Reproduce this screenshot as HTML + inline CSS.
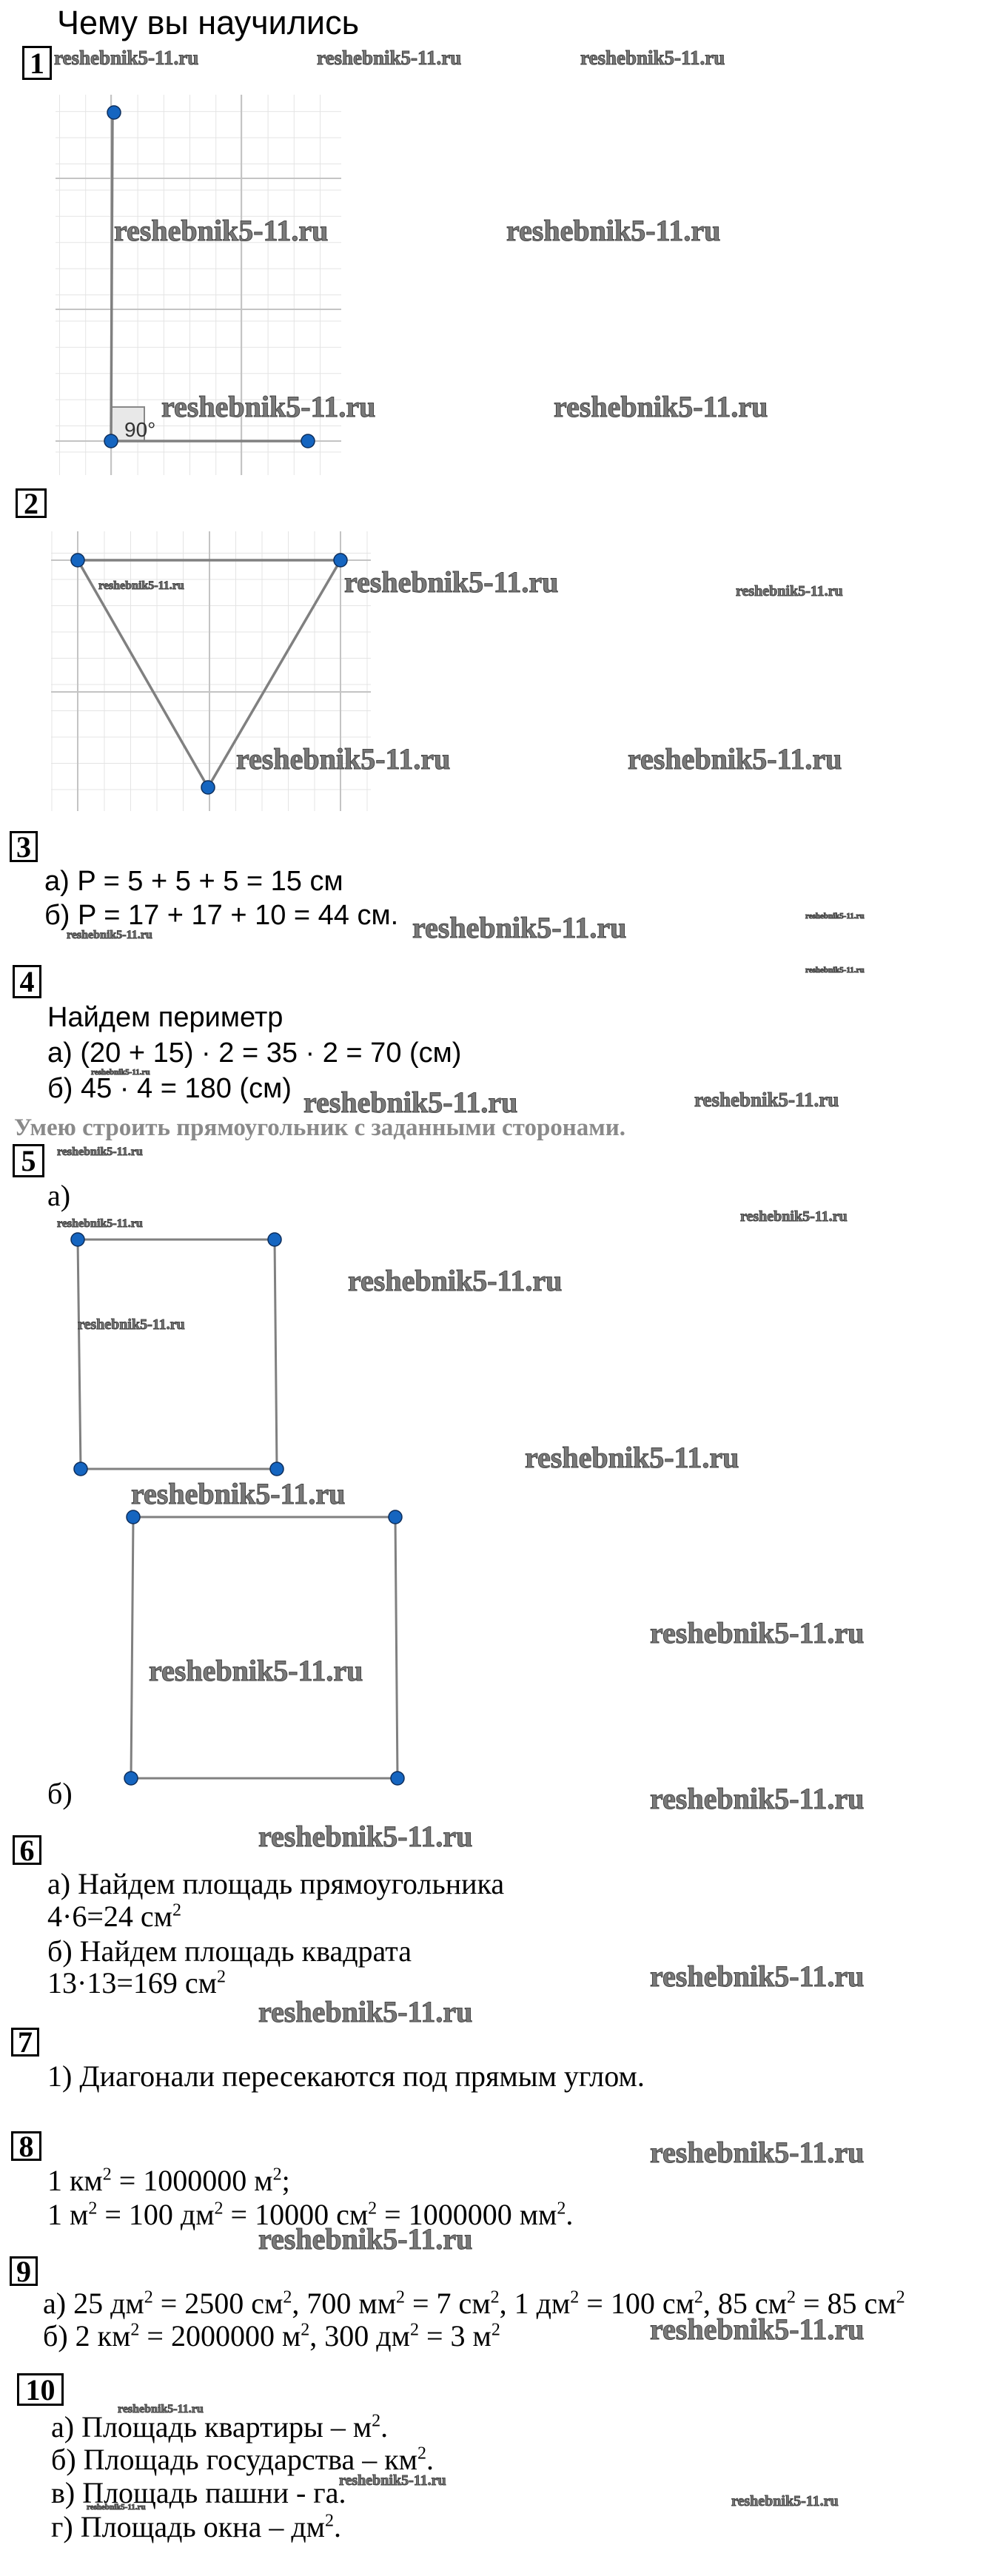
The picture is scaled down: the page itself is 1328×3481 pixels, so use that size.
<!DOCTYPE html>
<html><head><meta charset="utf-8">
<style>
body{margin:0;background:#fff;}
#p{position:relative;width:1328px;height:3481px;overflow:hidden;background:#fff;}
.t{position:absolute;white-space:nowrap;color:#000;}
.s{font-family:"Liberation Sans","Noto Sans CJK SC",sans-serif;font-size:38px;line-height:38px;}
.r{font-family:"Liberation Serif","Noto Serif CJK SC",serif;font-size:40px;line-height:40px;}
.b{position:absolute;border:3px solid #000;font-family:"Liberation Serif",serif;font-weight:bold;font-size:40px;display:flex;align-items:center;justify-content:center;box-sizing:border-box;}
.w{position:absolute;white-space:nowrap;font-family:"Liberation Serif",serif;font-weight:bold;color:#7a7a7a;-webkit-text-stroke:1px #444;}
.w40{font-size:40px;line-height:40px;}
.w27{font-size:27px;line-height:27px;}
.w20{font-size:20px;line-height:20px;}
.w16{font-size:16px;line-height:16px;}
.w11{font-size:11px;line-height:11px;}
sup{font-size:60%;line-height:0;}
</style></head><body><div id="p">
<svg width="1328" height="3481" style="position:absolute;left:0;top:0">
<defs>
<pattern id="g1" x="9.6" y="8.6" width="35.2" height="35.4" patternUnits="userSpaceOnUse"><path d="M0 0V35.4M0 0H35.2" stroke="#e4e4e4" stroke-width="2" fill="none"/></pattern>
<pattern id="g2" x="-1.5" y="1.5" width="35.5" height="35.5" patternUnits="userSpaceOnUse"><path d="M0 0V35.5M0 0H35.5" stroke="#e4e4e4" stroke-width="2" fill="none"/></pattern>
</defs>
<rect x="75" y="128" width="386" height="514" fill="url(#g1)"/>
<g stroke="#c4c4c4" stroke-width="2">
<line x1="150" y1="128" x2="150" y2="642"/><line x1="326" y1="128" x2="326" y2="642"/>
<line x1="75" y1="241" x2="461" y2="241"/><line x1="75" y1="418" x2="461" y2="418"/><line x1="75" y1="596" x2="461" y2="596"/>
</g>
<rect x="150" y="550" width="45" height="46" fill="#e8e8e8" stroke="#888" stroke-width="2"/>
<text x="168" y="590" font-family="Liberation Sans" font-size="28" fill="#333">90°</text>
<g stroke="#808080" stroke-width="3.5"><line x1="152" y1="152" x2="150" y2="596"/><line x1="150" y1="596" x2="416" y2="596"/></g>
<g fill="#1565c0" stroke="#0d2e5c" stroke-width="1.5"><circle cx="154" cy="152" r="9"/><circle cx="150" cy="596" r="9"/><circle cx="416" cy="596" r="9"/></g>

<rect x="69" y="718" width="432" height="378" fill="url(#g2)"/>
<g stroke="#c4c4c4" stroke-width="2">
<line x1="105" y1="718" x2="105" y2="1096"/><line x1="283" y1="718" x2="283" y2="1096"/><line x1="460" y1="718" x2="460" y2="1096"/>
<line x1="69" y1="757" x2="501" y2="757"/><line x1="69" y1="935" x2="501" y2="935"/>
</g>
<g stroke="#808080" stroke-width="3.5" fill="none"><polygon points="105,757 460,757 281,1064"/></g>
<g fill="#1565c0" stroke="#0d2e5c" stroke-width="1.5"><circle cx="105" cy="757" r="9"/><circle cx="460" cy="757" r="9"/><circle cx="281" cy="1064" r="9"/></g>

<g stroke="#808080" stroke-width="3" fill="none">
<polygon points="105,1675 371,1675 374,1985 109,1985"/>
<polygon points="180,2050 534,2050 537,2403 177,2403"/>
</g>
<g fill="#1565c0" stroke="#0d2e5c" stroke-width="1.5">
<circle cx="105" cy="1675" r="9"/><circle cx="371" cy="1675" r="9"/><circle cx="109" cy="1985" r="9"/><circle cx="374" cy="1985" r="9"/>
<circle cx="180" cy="2050" r="9"/><circle cx="534" cy="2050" r="9"/><circle cx="177" cy="2403" r="9"/><circle cx="537" cy="2403" r="9"/>
</g>
</svg>

<div class="t s" style="left:77px;top:8px;font-size:45px;line-height:45px;">Чему вы научились</div>
<div class="b" style="left:30px;top:62px;width:40px;height:46px;">1</div>
<div class="w w27" style="left:73px;top:65px;">reshebnik5-11.ru</div>
<div class="w w27" style="left:428px;top:65px;">reshebnik5-11.ru</div>
<div class="w w27" style="left:784px;top:65px;">reshebnik5-11.ru</div>
<div class="w w40" style="left:154px;top:292px;">reshebnik5-11.ru</div>
<div class="w w40" style="left:684px;top:292px;">reshebnik5-11.ru</div>
<div class="w w40" style="left:218px;top:530px;">reshebnik5-11.ru</div>
<div class="w w40" style="left:748px;top:530px;">reshebnik5-11.ru</div>

<div class="b" style="left:21px;top:660px;width:42px;height:40px;">2</div>
<div class="w w16" style="left:133px;top:784px;">reshebnik5-11.ru</div>
<div class="w w40" style="left:465px;top:767px;">reshebnik5-11.ru</div>
<div class="w w20" style="left:994px;top:789px;">reshebnik5-11.ru</div>
<div class="w w40" style="left:319px;top:1006px;">reshebnik5-11.ru</div>
<div class="w w40" style="left:848px;top:1006px;">reshebnik5-11.ru</div>

<div class="b" style="left:13px;top:1123px;width:38px;height:42px;">3</div>
<div class="t s" style="left:60px;top:1172px;">а) P = 5 + 5 + 5 = 15 см</div>
<div class="t s" style="left:60px;top:1218px;">б) P = 17 + 17 + 10 = 44 см.</div>
<div class="w w16" style="left:90px;top:1256px;">reshebnik5-11.ru</div>
<div class="w w40" style="left:557px;top:1234px;">reshebnik5-11.ru</div>
<div class="w w11" style="left:1088px;top:1233px;">reshebnik5-11.ru</div>
<div class="w w11" style="left:1088px;top:1306px;">reshebnik5-11.ru</div>

<div class="b" style="left:17px;top:1304px;width:39px;height:45px;">4</div>
<div class="t s" style="left:64px;top:1356px;">Найдем периметр</div>
<div class="t s" style="left:64px;top:1404px;">а) (20 + 15) · 2 = 35 · 2 = 70 (см)</div>
<div class="t s" style="left:64px;top:1452px;">б) 45 · 4 =  180 (см)</div>
<div class="w w11" style="left:123px;top:1444px;">reshebnik5-11.ru</div>
<div class="w w40" style="left:410px;top:1470px;">reshebnik5-11.ru</div>
<div class="w w27" style="left:938px;top:1473px;">reshebnik5-11.ru</div>
<div class="t" style="left:19px;top:1508px;font-family:'Liberation Serif',serif;font-weight:bold;font-size:33px;line-height:33px;color:#8a8a8a;">Умею строить прямоугольник с заданными сторонами.</div>

<div class="b" style="left:17px;top:1546px;width:43px;height:45px;">5</div>
<div class="w w16" style="left:77px;top:1549px;">reshebnik5-11.ru</div>
<div class="t r" style="left:64px;top:1596px;">а)</div>
<div class="w w16" style="left:77px;top:1646px;">reshebnik5-11.ru</div>
<div class="w w20" style="left:1000px;top:1634px;">reshebnik5-11.ru</div>
<div class="w w20" style="left:105px;top:1780px;">reshebnik5-11.ru</div>
<div class="w w40" style="left:470px;top:1711px;">reshebnik5-11.ru</div>
<div class="w w40" style="left:709px;top:1950px;">reshebnik5-11.ru</div>
<div class="w w40" style="left:177px;top:1999px;">reshebnik5-11.ru</div>
<div class="w w40" style="left:878px;top:2187px;">reshebnik5-11.ru</div>
<div class="w w40" style="left:201px;top:2238px;">reshebnik5-11.ru</div>

<div class="t r" style="left:64px;top:2404px;">б)</div>
<div class="w w40" style="left:878px;top:2411px;">reshebnik5-11.ru</div>
<div class="b" style="left:17px;top:2480px;width:39px;height:40px;">6</div>
<div class="w w40" style="left:349px;top:2462px;">reshebnik5-11.ru</div>
<div class="t r" style="left:64px;top:2526px;">а) Найдем площадь прямоугольника</div>
<div class="t r" style="left:64px;top:2570px;">4·6=24 см<sup>2</sup></div>
<div class="t r" style="left:64px;top:2617px;">б) Найдем площадь квадрата</div>
<div class="t r" style="left:64px;top:2660px;">13·13=169 см<sup>2</sup></div>
<div class="w w40" style="left:878px;top:2651px;">reshebnik5-11.ru</div>
<div class="w w40" style="left:349px;top:2699px;">reshebnik5-11.ru</div>

<div class="b" style="left:15px;top:2740px;width:38px;height:39px;">7</div>
<div class="t r" style="left:64px;top:2786px;">1) Диагонали пересекаются под прямым углом.</div>

<div class="b" style="left:15px;top:2880px;width:41px;height:40px;">8</div>
<div class="w w40" style="left:878px;top:2889px;">reshebnik5-11.ru</div>
<div class="t r" style="left:64px;top:2927px;">1 км<sup>2</sup> = 1000000 м<sup>2</sup>;</div>
<div class="t r" style="left:64px;top:2973px;">1 м<sup>2</sup> = 100 дм<sup>2</sup> = 10000 см<sup>2</sup> = 1000000 мм<sup>2</sup>.</div>
<div class="w w40" style="left:349px;top:3006px;">reshebnik5-11.ru</div>

<div class="b" style="left:13px;top:3049px;width:38px;height:40px;">9</div>
<div class="t r" style="left:58px;top:3093px;">а) 25 дм<sup>2</sup> = 2500 см<sup>2</sup>, 700 мм<sup>2</sup> = 7 см<sup>2</sup>, 1 дм<sup>2</sup> = 100 см<sup>2</sup>, 85 см<sup>2</sup> = 85 см<sup>2</sup></div>
<div class="t r" style="left:58px;top:3137px;">б) 2 км<sup>2</sup> = 2000000 м<sup>2</sup>, 300 дм<sup>2</sup> = 3 м<sup>2</sup></div>
<div class="w w40" style="left:878px;top:3128px;">reshebnik5-11.ru</div>

<div class="b" style="left:23px;top:3207px;width:63px;height:44px;">10</div>
<div class="w w16" style="left:159px;top:3248px;">reshebnik5-11.ru</div>
<div class="t r" style="left:69px;top:3260px;">а) Площадь квартиры – м<sup>2</sup>.</div>
<div class="t r" style="left:69px;top:3304px;">б) Площадь государства – км<sup>2</sup>.</div>
<div class="w w20" style="left:458px;top:3342px;">reshebnik5-11.ru</div>
<div class="t r" style="left:69px;top:3349px;">в) Площадь пашни - га.</div>
<div class="w w11" style="left:117px;top:3383px;">reshebnik5-11.ru</div>
<div class="w w20" style="left:988px;top:3370px;">reshebnik5-11.ru</div>
<div class="t r" style="left:69px;top:3395px;">г) Площадь окна – дм<sup>2</sup>.</div>
</div></body></html>
